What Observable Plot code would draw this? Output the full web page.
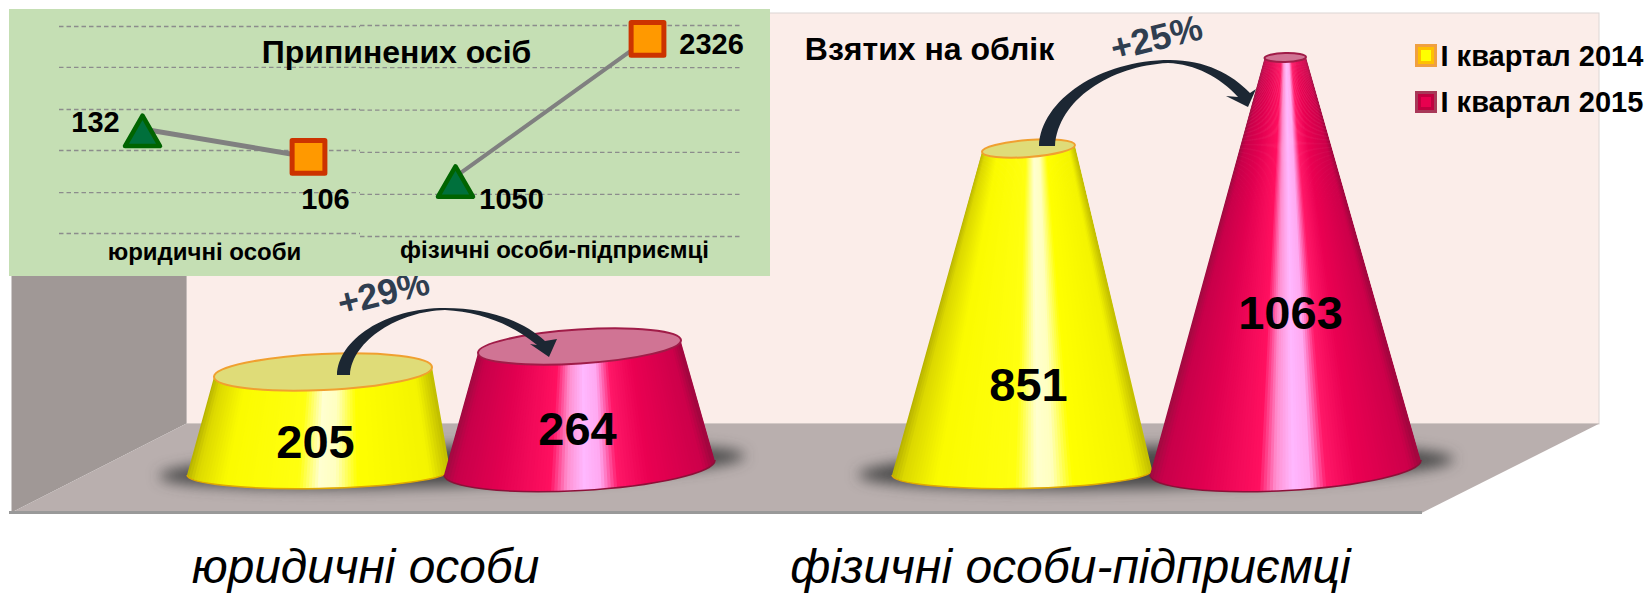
<!DOCTYPE html>
<html><head><meta charset="utf-8">
<script src="https://cdn.jsdelivr.net/npm/d3@7"></script>
<script src="https://cdn.jsdelivr.net/npm/@observablehq/plot@0.6"></script>
<style>html,body{margin:0;padding:0;background:#fff}svg text{font-family:"Liberation Sans",Arial,sans-serif}</style>
</head><body><div id="chart"></div>
<script>
// ---- data ----
const categories = ["юридичні особи", "фізичні особи-підприємці"];
const quarters = ["І квартал 2014", "І квартал 2015"];
const registered2014 = [205, 851];
const registered2015 = [264, 1063];
const stopped2014 = [132, 1050];
const stopped2015 = [106, 2326];
const growth = ["+29%", "+25%"];
const titleStopped = "Припинених осіб";
const titleRegistered = "Взятих на облік";
const gridLegal = [227, 189, 150, 112, 73, 35];
const gridSole = [2450, 2060, 1665, 1275, 885, 495];

// ---- layout (page pixels) ----
const W = 1648, H = 594, FONT = '"Liberation Sans", Arial, sans-serif';
const coneValues = [0, registered2014[0], registered2015[0], registered2014[1], registered2015[1]];
const coneTopsPx = [480, 372, 346.5, 148.5, 57.5];
const coneGeom = [
  {value: registered2014[0], kind: "y", shift: -.02, tl: [214, 5], tr: [432, -5], rt: 18, bl: [187, 475], br: [450, 470], rb: 16, lx: 315, ly: 442},
  {value: registered2015[0], kind: "r", shift: -.01, tl: [478, 6.5], tr: [681, -6.5], rt: 17, bl: [444, 475], br: [715, 460], rb: 23, lx: 577, ly: 429},
  {value: registered2014[1], kind: "y", shift: .03, tl: [982, 3.5], tr: [1075, -3.5], rt: 8.5, bl: [892, 475], br: [1152, 470], rb: 16, lx: 1028, ly: 385},
  {value: registered2015[1], kind: "r", shift: 0, tl: [1264.5, .5], tr: [1306, -.5], rt: 4.5, bl: [1150, 475], br: [1421, 460], rb: 23, lx: 1290, ly: 313}
];
const shadows = [[452, 466, 293, 20, -2], [1156, 467, 298, 21, -1.5]];
const shades = {
  y: {t: [0, .04, .16, .44, .52, .58, .66, .92, 1], c: ["#b9b400", "#dcd800", "#fbfb00", "#ffff10", "#ffffd0", "#ffffc0", "#ffff00", "#f4f400", "#bcb800"], top: "#dfdc78", edge: "#f0a030"},
  r: {t: [0, .05, .2, .4, .46, .52, .58, .64, .75, .95, 1], c: ["#9c0c40", "#c8004a", "#e00050", "#ff1060", "#ff90d0", "#ffb8ff", "#ffa8f0", "#ff1868", "#ea0052", "#cc004a", "#98083c"], top: "#d07494", edge: "#a01c48"}
};
const arrows = [
  "M337,375 C338,340 385,308 445,308 C490,308 525,322 545,341 L557,339 L549,357 L530,344 L537,345 C512,324 480,312 445,310 C400,311 352,340 350,375 Z",
  "M1039,146 C1041,100 1100,60 1170,60 C1205,60 1232,74 1250,93 L1256,89 L1248,107 L1226,96 L1238,97 C1220,77 1195,64 1168,63 C1110,66 1058,100 1055,146 Z"
];
const poly = (fill, pts) => Plot.line(pts.map(([x, y]) => ({x, y})), {x: "x", y: "y", fill, stroke: "none"});
const txt = (s, x, y, size, o = {}) => Plot.text([s], {x: () => x, y: () => y, text: d => d, fontSize: size, fontWeight: "bold", fill: "#000", textAnchor: "middle", lineAnchor: "middle", ...o});

// ---- cones: value scale on y ----
function cones(index, {y}) {
  const NS = "http://www.w3.org/2000/svg";
  const g = document.createElementNS(NS, "g");
  const el = (n, a, p = g) => { const e = document.createElementNS(NS, n); for (const k in a) e.setAttribute(k, a[k]); p.appendChild(e); return e; };
  const defs = el("defs", {});
  const blur = el("filter", {id: "soft", x: "-20%", y: "-60%", width: "140%", height: "220%"}, defs);
  el("feGaussianBlur", {stdDeviation: 7}, blur);
  shadows.forEach(([cx, cy, rx, ry, rot]) => el("ellipse", {cx, cy, rx, ry, fill: "#4a4a4a", filter: "url(#soft)", transform: `rotate(${rot} ${cx} ${cy})`}));
  coneGeom.forEach((c, i) => {
    const s = shades[c.kind], yc = y(c.value);
    const color = d3.scaleLinear().domain(s.t).range(s.c).clamp(true);
    const TL = [c.tl[0], yc + c.tl[1]], TR = [c.tr[0], yc + c.tr[1]];
    const tiltB = Math.atan2(c.br[1] - c.bl[1], c.br[0] - c.bl[0]) * 180 / Math.PI;
    const tiltT = Math.atan2(TR[1] - TL[1], TR[0] - TL[0]) * 180 / Math.PI;
    const rxB = Math.hypot(c.br[0] - c.bl[0], c.br[1] - c.bl[1]) / 2;
    const rxT = Math.hypot(TR[0] - TL[0], TR[1] - TL[1]) / 2;
    const d = `M${TL} L${c.bl} A${rxB},${c.rb} ${tiltB} 0 0 ${c.br} L${TR} A${rxT},${c.rt} ${tiltT} 0 0 ${TL} Z`;
    const cp = el("clipPath", {id: "cone" + i}, defs); el("path", {d}, cp);
    const lay = el("g", {"clip-path": `url(#cone${i})`});
    const n = 90, ext = 40, hTotal = ((c.bl[1] + c.br[1]) / 2) - yc;
    for (let k = 0; k < n; k++) {
      const a = k / n, b = (k + 1.6) / n;
      const xT = t => TL[0] + (TR[0] - TL[0]) * t, xB = t => c.bl[0] + (c.br[0] - c.bl[0]) * t;
      const yT = yc - 30, yB = yc + hTotal + ext;
      const lerp = (t, v) => xT(t) + (xB(t) - xT(t)) * ((v - yc) / hTotal);
      const pts = [[lerp(a, yT), yT], [lerp(b, yT), yT], [lerp(b, yB), yB], [lerp(a, yB), yB]];
      el("polygon", {points: pts.join(" "), fill: color(a - c.shift * Math.sin(Math.PI * a))}, lay);
    }
    el("path", {d: `M${c.bl} A${rxB},${c.rb} ${tiltB} 0 0 ${c.br}`, fill: "none", stroke: c.kind === "y" ? "#e0a800" : "#8c1038", "stroke-width": 1.5});
    const cx = (TL[0] + TR[0]) / 2, cy = (TL[1] + TR[1]) / 2;
    el("ellipse", {cx, cy, rx: rxT, ry: c.rt, fill: s.top, stroke: s.edge, "stroke-width": 2, transform: `rotate(${tiltT} ${cx} ${cy})`});
  });
  return g;
}
const conePlot = Plot.plot({
  width: W, height: H, margin: 0, style: {background: "none"},
  x: {type: "identity", axis: null},
  y: {type: "linear", domain: coneValues, range: coneTopsPx, axis: null},
  marks: [
    cones,
    ...coneGeom.map(c => Plot.text([c.value], {x: () => c.lx, y: d => d, dy: c.ly - coneTopsPx[coneValues.indexOf(c.value)], text: d => String(d), fontSize: 47, fontWeight: "bold", fill: "#000", fontFamily: FONT}))
  ]
});

// ---- inset ----
function inset(v14, v15, grid, xr, yr, mL, mR, lw, triDy, off14, off15) {
  const data = [{q: quarters[0], v: v14}, {q: quarters[1], v: v15}];
  const label = d => String(d.v);
  return Plot.plot({
    width: W, height: H, marginLeft: mL, marginRight: W - mR, marginTop: 0, marginBottom: 0, style: {background: "none"},
    x: {type: "point", domain: quarters, range: xr, padding: 0, axis: null},
    y: {type: "linear", domain: [grid[0], grid[grid.length - 1]], range: yr, axis: null},
    marks: [
      Plot.ruleY(grid, {stroke: "#8c8c8c", strokeWidth: 1.3, strokeDasharray: "4.5 3"}),
      Plot.line(data, {x: "q", y: "v", stroke: "#808080", strokeWidth: lw}),
      Plot.dot(data.slice(0, 1), {x: "q", y: "v", dy: triDy, symbol: "triangle", r: 13, fill: "#00703c", stroke: "#006400", strokeWidth: 4.5, strokeLinejoin: "round"}),
      Plot.dot(data.slice(1), {x: "q", y: "v", symbol: "square", r: 18.5, fill: "#ff9900", stroke: "#cc3300", strokeWidth: 5, strokeLinejoin: "round"}),
      Plot.text(data.slice(0, 1), {x: "q", y: "v", text: label, dx: off14[0], dy: off14[1], fontSize: 29, fontWeight: "bold", fill: "#000", fontFamily: FONT}),
      Plot.text(data.slice(1), {x: "q", y: "v", text: label, dx: off15[0], dy: off15[1], fontSize: 29, fontWeight: "bold", fill: "#000", fontFamily: FONT})
    ]
  });
}
const insetLegal = inset(stopped2014[0], stopped2015[0], gridLegal, [142, 308], [26, 233], 59, 360, 5, 7, [-47, -6], [17, 43]);
const insetSole = inset(stopped2014[1], stopped2015[1], gridSole, [455, 647], [25, 236], 360, 740, 4, 10, [56, 23], [64, 6]);

// ---- page-level composition ----
const swatch = (x1, x2, y1, y2, fill) => Plot.rect([0], {x1: () => x1, x2: () => x2, y1: () => y1, y2: () => y2, fill});
const chart = Plot.plot({
  width: W, height: H, margin: 0, style: {background: "#fff", fontFamily: FONT},
  x: {type: "identity", axis: null},
  y: {type: "identity", axis: null},
  marks: [
    Plot.rect([0], {x1: () => 186, x2: () => 1599, y1: () => 13, y2: () => 424, fill: "#fbede9", stroke: "#dcd6d4", strokeWidth: 1}),
    poly("#a09896", [[11, 270], [186, 270], [186, 423], [11, 512]]),
    poly("#b9afae", [[11, 512], [186, 423], [1599, 423], [1422, 512]]),
    Plot.ruleY([512], {x1: () => 9, x2: () => 1422, stroke: "#999", strokeWidth: 3}),
    () => conePlot,
    () => { const g = d3.create("svg:g"); arrows.forEach(d => g.append("path").attr("d", d).attr("fill", "#1c2733")); return g.node(); },
    txt(growth[0], 0, 0, 36, {x: () => 383, y: () => 293, rotate: -14, fill: "#2f3e50"}),
    txt(growth[1], 0, 0, 36, {x: () => 1156, y: () => 38, rotate: -14, fill: "#2f3e50"}),
    txt(titleRegistered, 929, 49, 32),
    txt(categories[0], 365, 567, 47.8, {fontWeight: "normal", fontStyle: "italic"}),
    txt(categories[1], 1070, 567, 48, {fontWeight: "normal", fontStyle: "italic"}),
    swatch(1415, 1437, 44, 67, "#f0a040"), swatch(1418, 1434, 47, 64, "#ffc000"), swatch(1421, 1431, 50, 61, "#ffff00"),
    swatch(1415, 1437, 91, 113, "#a83858"), swatch(1418, 1434, 94, 110, "#c00040"), swatch(1421, 1431, 97, 107, "#e8004f"),
    txt(quarters[0], 1440, 56, 29, {textAnchor: "start"}),
    txt(quarters[1], 1440, 102, 29, {textAnchor: "start"}),
    Plot.rect([0], {x1: () => 9, x2: () => 770, y1: () => 9, y2: () => 276, fill: "#c5dfb4"}),
    () => insetLegal,
    () => insetSole,
    txt(titleStopped, 396, 52, 32),
    txt(categories[0], 204, 252, 24),
    txt(categories[1], 554, 250, 24)
  ]
});
document.getElementById("chart").appendChild(chart);
</script></body></html>
